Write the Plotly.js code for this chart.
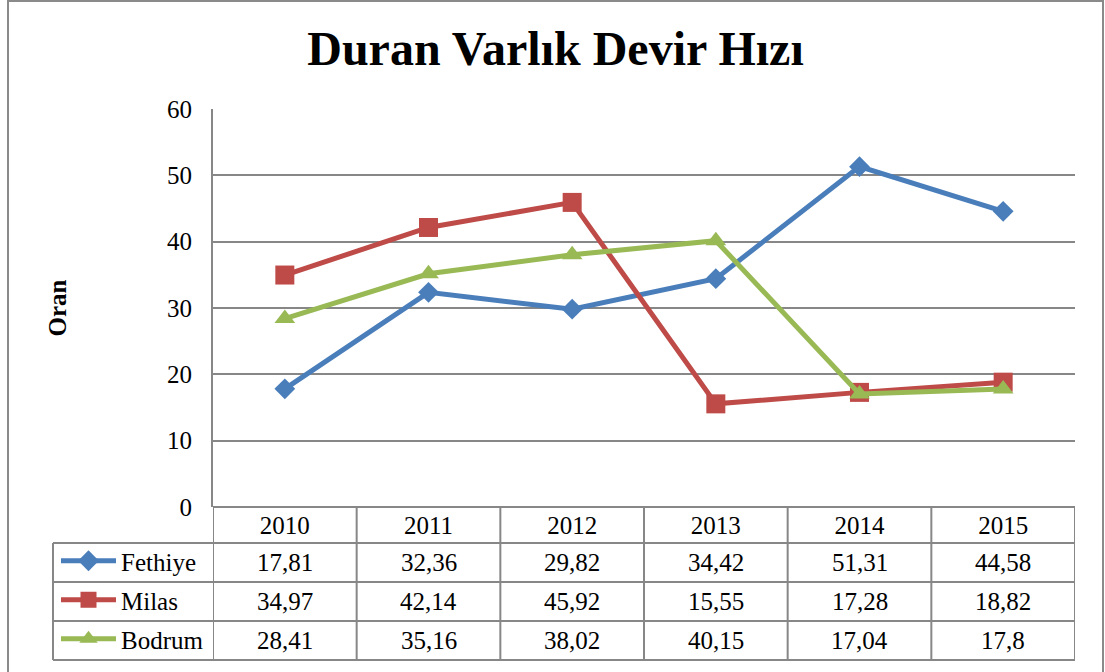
<!DOCTYPE html>
<html>
<head>
<meta charset="utf-8">
<script src="https://cdn.plot.ly/plotly-3.0.1.min.js"></script>
<style>html,body{margin:0;padding:0;background:#fff;}#chart{width:1105px;height:672px;}</style>
</head>
<body>
<div id="chart"></div>
<script>
// ---- data ----
var years = ["2010", "2011", "2012", "2013", "2014", "2015"];
var fethiye = [17.81, 32.36, 29.82, 34.42, 51.31, 44.58];
var milas = [34.97, 42.14, 45.92, 15.55, 17.28, 18.82];
var bodrum = [28.41, 35.16, 38.02, 40.15, 17.04, 17.8];
var seriesNames = ["Fethiye", "Milas", "Bodrum"];
var yTicks = [0, 10, 20, 30, 40, 50, 60];

// ---- geometry helpers (pixel -> paper) ----
var W = 1105, H = 672;
function px(x) { return x / W; }
function py(y) { return 1 - y / H; }

var FONT = "Liberation Serif";
var GRID = "#878787";
var colors = ["#4a7ebb", "#be4b48", "#98b954"];
var symbols = ["diamond", "square", "triangle-up"];
var sizes = [16, 19, 18];
var allSeries = [fethiye, milas, bodrum];

var traces = allSeries.map(function (vals, k) {
  return {
    type: "scatter", mode: "lines+markers",
    x: years, y: vals, name: seriesNames[k],
    legendgroup: "g" + k,
    line: { color: colors[k], width: 5 },
    marker: { symbol: symbols[k], size: sizes[k], color: colors[k] },
    cliponaxis: false
  };
});

// table rows
var rowTop = [543, 582, 621];
var rowBot = [582, 621, 660];
var annotations = [];
allSeries.forEach(function (vals, k) {
  var yc = py((rowTop[k] + rowBot[k]) / 2);
  vals.forEach(function (v, i) {
    annotations.push({
      x: i, xref: "x", y: yc, yref: "paper",
      text: String(v).replace(".", ","), showarrow: false,
      xanchor: "center", yanchor: "middle",
      font: { family: FONT, size: 25, color: "#000000" }
    });
  });
});

var shapes = [];
shapes.push({ type: "rect", xref: "paper", yref: "paper", x0: px(8), x1: px(1103), y0: -0.2, y1: py(1),
  line: { color: "#8a8a8a", width: 2 }, fillcolor: "rgba(0,0,0,0)", layer: "below" });
[543, 582, 621, 660].forEach(function (y) {
  shapes.push({ type: "line", xref: "paper", yref: "paper", x0: px(53), x1: px(1075), y0: py(y), y1: py(y),
    line: { color: GRID, width: 2 } });
});
for (var i = 0; i <= years.length; i++) {
  shapes.push({ type: "line", xref: "x", yref: "paper", x0: i - 0.5, x1: i - 0.5, y0: py(507), y1: py(660),
    line: { color: GRID, width: 2 } });
}
shapes.push({ type: "line", xref: "paper", yref: "paper", x0: px(53), x1: px(53), y0: py(543), y1: py(660),
  line: { color: GRID, width: 2 } });

var layout = {
  width: W, height: H,
  margin: { l: 0, r: 0, t: 0, b: 0 },
  paper_bgcolor: "#fff", plot_bgcolor: "#fff",
  font: { family: FONT, size: 25, color: "#000000" },
  title: {
    text: "<b>Duran Varlık Devir Hızı</b>",
    font: { family: FONT, size: 48, color: "#000000" },
    x: px(555.5), xanchor: "center", xref: "paper",
    y: py(48), yanchor: "middle", yref: "paper"
  },
  xaxis: {
    type: "category", domain: [px(213), px(1075)], range: [-0.5, 5.5],
    anchor: "free", position: py(506),
    showgrid: false, zeroline: false, showline: false,
    ticks: "", tickfont: { family: FONT, size: 25, color: "#000000" },
    ticklabelstandoff: 2, fixedrange: true
  },
  yaxis: {
    domain: [py(507), py(109)], range: [0, 60], tickvals: yTicks,
    showgrid: true, gridcolor: GRID, gridwidth: 2,
    zeroline: true, zerolinecolor: GRID, zerolinewidth: 2,
    showline: true, linecolor: GRID, linewidth: 2,
    ticks: "", ticklabelstandoff: 14,
    tickfont: { family: FONT, size: 25, color: "#000000" },
    title: { text: "<b>Oran</b>", font: { family: FONT, size: 25, color: "#000000" }, standoff: 93 },
    fixedrange: true
  },
  showlegend: true,
  legend: {
    x: px(56), xanchor: "left", y: py(538), yanchor: "top",
    bgcolor: "rgba(0,0,0,0)", borderwidth: 0,
    font: { family: FONT, size: 25, color: "#000000" },
    itemwidth: 55, tracegroupgap: 3.5, traceorder: "grouped"
  },
  shapes: shapes,
  annotations: annotations
};

Plotly.newPlot("chart", traces, layout, { displayModeBar: false });
</script>
</body>
</html>
